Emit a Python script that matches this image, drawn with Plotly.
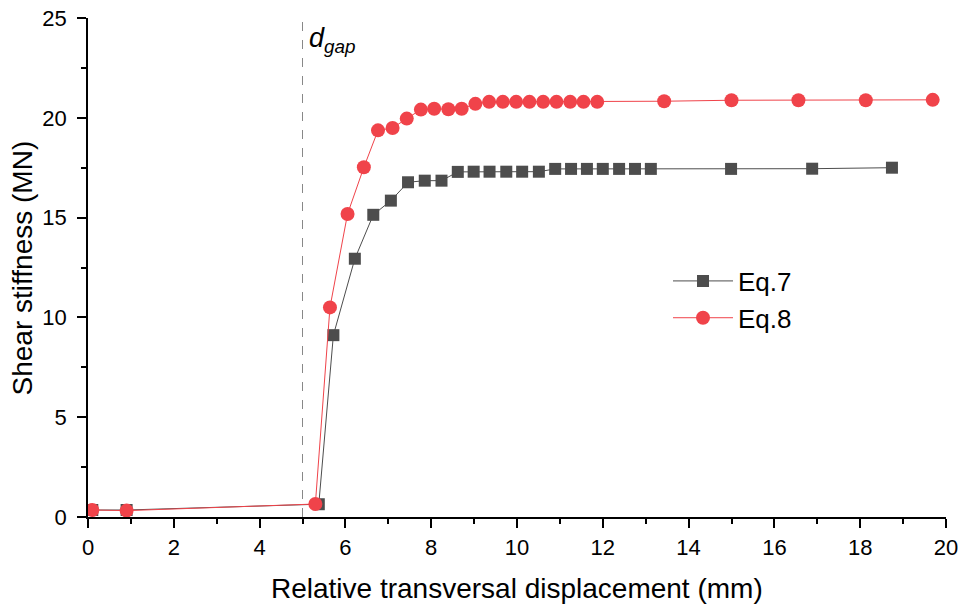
import plotly.graph_objects as go

eq7_x = [0.1, 0.9, 5.38, 5.72, 6.22, 6.65, 7.06, 7.46, 7.85, 8.24, 8.62, 8.99, 9.36, 9.75,
         10.12, 10.51, 10.89, 11.26, 11.63, 12.0, 12.38, 12.75, 13.12, 14.99, 16.88, 18.74]
eq7_y = [0.35, 0.35, 0.64, 9.11, 12.94, 15.14, 15.85, 16.77, 16.85, 16.85, 17.29, 17.3, 17.3, 17.3,
         17.3, 17.3, 17.44, 17.44, 17.44, 17.44, 17.44, 17.44, 17.44, 17.44, 17.45, 17.5]

eq8_x = [0.1, 0.9, 5.3, 5.64, 6.05, 6.43, 6.76, 7.1, 7.43, 7.76, 8.07, 8.4, 8.71, 9.03, 9.35,
         9.67, 9.98, 10.29, 10.61, 10.92, 11.24, 11.55, 11.87, 13.43, 15.0, 16.56, 18.13, 19.69]
eq8_y = [0.35, 0.32, 0.65, 10.5, 15.18, 17.52, 19.37, 19.49, 19.96, 20.41, 20.45, 20.43, 20.45, 20.7, 20.8,
         20.8, 20.8, 20.8, 20.8, 20.8, 20.8, 20.8, 20.8, 20.83, 20.88, 20.88, 20.88, 20.9]

d_gap = 5.0
x_title = "Relative transversal displacement (mm)"
y_title = "Shear stiffness (MN)"

FONT = "Liberation Sans, Arial, sans-serif"

fig = go.Figure()
fig.add_trace(go.Scatter(
    x=eq7_x, y=eq7_y, name="Eq.7", mode="lines+markers",
    line=dict(color="#4d4d4d", width=1),
    marker=dict(symbol="square", size=12, color="#4d4d4d"),
))
fig.add_trace(go.Scatter(
    x=eq8_x, y=eq8_y, name="Eq.8", mode="lines+markers",
    line=dict(color="#f0434a", width=1),
    marker=dict(symbol="circle", size=14, color="#f0434a"),
))

fig.add_shape(type="line", xref="x", yref="paper", x0=d_gap, x1=d_gap, y0=0, y1=1,
              line=dict(color="#888888", width=1, dash="dash"), layer="below")
fig.add_annotation(x=d_gap, y=23.9, xref="x", yref="y", xanchor="left", yanchor="middle",
                   xshift=4, text="<i>d<sub>gap</sub></i>", showarrow=False,
                   font=dict(family=FONT, size=27, color="black"))

fig.add_annotation(x=0.5, y=-0.144, xref="paper", yref="paper", xanchor="center", yanchor="middle",
                   text=x_title, showarrow=False, font=dict(family=FONT, size=28, color="black"))
fig.add_annotation(x=-0.0758, y=0.5, xref="paper", yref="paper", xanchor="center", yanchor="middle",
                   text=y_title, textangle=-90, showarrow=False,
                   font=dict(family=FONT, size=28, color="black"))

fig.update_layout(
    width=960, height=607,
    margin=dict(l=88, r=14, t=18, b=90, autoexpand=False),
    plot_bgcolor="white", paper_bgcolor="white",
    font=dict(family=FONT, color="black"),
    showlegend=True,
    legend=dict(x=0.676, y=0.52, xanchor="left", yanchor="top",
                font=dict(family=FONT, size=26, color="black"),
                bgcolor="rgba(0,0,0,0)", itemwidth=60, tracegroupgap=0),
    xaxis=dict(range=[0, 20], tickmode="linear", tick0=0, dtick=2, automargin=False,
               showgrid=False, zeroline=False, showline=True, linecolor="black", linewidth=1.5,
               ticks="outside", ticklen=9, tickwidth=1.5, tickcolor="black",
               minor=dict(dtick=1, ticks="outside", ticklen=5, tickwidth=1.5, tickcolor="black"),
               tickfont=dict(size=22), ticklabelstandoff=1),
    yaxis=dict(range=[0, 25], tickmode="linear", tick0=0, dtick=5, automargin=False,
               showgrid=False, zeroline=False, showline=True, linecolor="black", linewidth=1.5,
               ticks="outside", ticklen=9, tickwidth=1.5, tickcolor="black",
               minor=dict(dtick=2.5, ticks="outside", ticklen=5, tickwidth=1.5, tickcolor="black"),
               tickfont=dict(size=22), ticklabelstandoff=6),
)

fig.write_html("out.html")
